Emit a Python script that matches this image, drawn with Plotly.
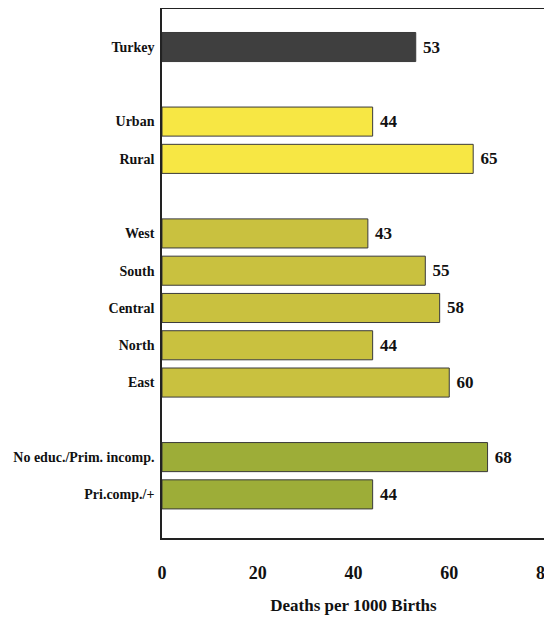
import plotly.graph_objects as go

categories = ["Turkey", "Urban", "Rural", "West", "South", "Central", "North", "East",
              "No educ./Prim. incomp.", "Pri.comp./+"]
values = [53, 44, 65, 43, 55, 58, 44, 60, 68, 44]
groups = [0, 1, 1, 2, 2, 2, 2, 2, 3, 3]
group_colors = ["#3f3f3f", "#f7e744", "#c9c13f", "#9dad38"]
x_ticks = [0, 20, 40, 60, 80]

# slot positions: one empty slot between groups
positions = [i + g for i, g in enumerate(groups)]
colors = [group_colors[g] for g in groups]

FONT = "'Liberation Serif', 'Times New Roman', Times, serif"
fig = go.Figure(go.Bar(
    x=values, y=positions, orientation="h",
    marker=dict(color=colors, line=dict(color="#3a3a3a", width=1)),
    width=0.78,
    text=values, texttemplate=" %{x}", textposition="outside", cliponaxis=False,
    textfont=dict(family=FONT, size=17, color="#111", weight="bold"),
))

fig.update_layout(
    width=552, height=620,
    margin=dict(l=154, r=15, t=1, b=90, autoexpand=False),
    paper_bgcolor="white", plot_bgcolor="white",
    showlegend=False,
    font=dict(family=FONT, size=16, color="#111", weight="bold"),
)
fig.update_xaxes(
    range=[0, 80], tickvals=x_ticks, showgrid=False, zeroline=False,
    showline=True, mirror=True, linecolor="#222", linewidth=1.5,
    ticks="", ticklabelstandoff=18, automargin=False,
    tickfont=dict(family=FONT, size=18, weight="bold"),
    title=dict(text="Deaths per 1000 Births", standoff=17,
               font=dict(family=FONT, size=17, weight="bold")),
)
fig.update_yaxes(
    range=[13.17, -1.02], tickvals=positions, ticktext=categories,
    showgrid=False, zeroline=False, automargin=False,
    showline=True, mirror=True, linecolor="#222", linewidth=1.5,
    ticks="", ticklabelstandoff=3,
    tickfont=dict(family=FONT, size=14, weight="bold"),
)

fig.write_html("out.html")
